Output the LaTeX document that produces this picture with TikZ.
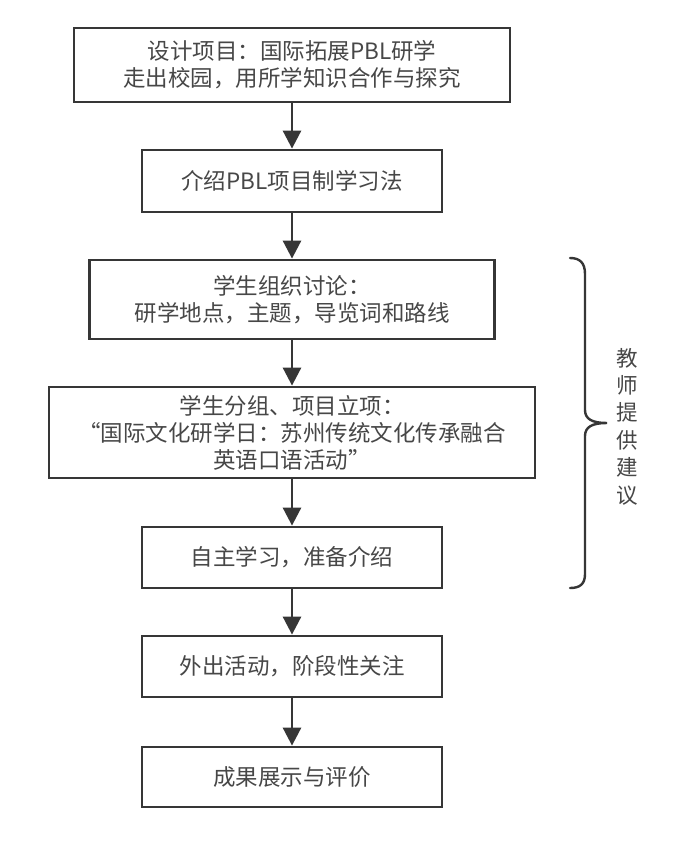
\documentclass[tikz,border=0pt]{standalone}
\usepackage{fontspec}
\newfontfamily\cjk{Noto Sans CJK SC}
\usetikzlibrary{arrows.meta}
\definecolor{linegray}{HTML}{363636}
\definecolor{textgray}{HTML}{474747}
\tikzset{
  flowbox/.style={draw=linegray, line width=2.8pt, fill=white, text=textgray, align=center,
    inner sep=0pt, font=\cjk\fontsize{22.5}{27}\selectfont},
  flowarrow/.style={draw=linegray, line width=2.8pt, -{Triangle[length=18pt,width=18pt]}},
  bracestyle/.style={draw=linegray, line width=2.4pt, line cap=round},
  sidetext/.style={text=textgray, align=center, inner sep=0pt, font=\cjk\fontsize{21.5}{27.4}\selectfont}
}
\begin{document}
\begin{tikzpicture}[x=1pt,y=-1pt]
\useasboundingbox[fill=white] (0,0) rectangle (692,850);
\node[flowbox, minimum width=436pt, minimum height=74pt] (b1) at (292,65)
  {设计项目：国际拓展PBL研学\\走出校园，用所学知识合作与探究};
\node[flowbox, minimum width=300pt, minimum height=62pt] (b2) at (292,181)
  {介绍PBL项目制学习法};
\node[flowbox, minimum width=405pt, minimum height=79pt] (b3) at (292,299.5)
  {学生组织讨论：\\研学地点，主题，导览词和路线};
\node[flowbox, minimum width=486pt, minimum height=91pt] (b4) at (292,432.5)
  {学生分组、项目立项：\\“国际文化研学日：苏州传统文化传承融合\\英语口语活动”};
\node[flowbox, minimum width=300pt, minimum height=61pt] (b5) at (292,557.5)
  {自主学习，准备介绍};
\node[flowbox, minimum width=300pt, minimum height=61pt] (b6) at (292,666.5)
  {外出活动，阶段性关注};
\node[flowbox, minimum width=300pt, minimum height=60pt] (b7) at (292,777)
  {成果展示与评价};
\draw[flowarrow] (b1) -- (b2);
\draw[flowarrow] (b2) -- (b3);
\draw[flowarrow] (b3) -- (b4);
\draw[flowarrow] (b4) -- (b5);
\draw[flowarrow] (b5) -- (b6);
\draw[flowarrow] (b6) -- (b7);
% brace
\draw[bracestyle] (570,258) .. controls (580,258) and (585,263) .. (585,274)
  -- (585,410) .. controls (585,419) and (592,423) .. (607,423)
  .. controls (592,423) and (585,427) .. (585,436)
  -- (585,574) .. controls (585,584) and (580,588) .. (570,588);
\node[sidetext] (advice) at (627,426.5) {教\\师\\提\\供\\建\\议};
\end{tikzpicture}
\end{document}
